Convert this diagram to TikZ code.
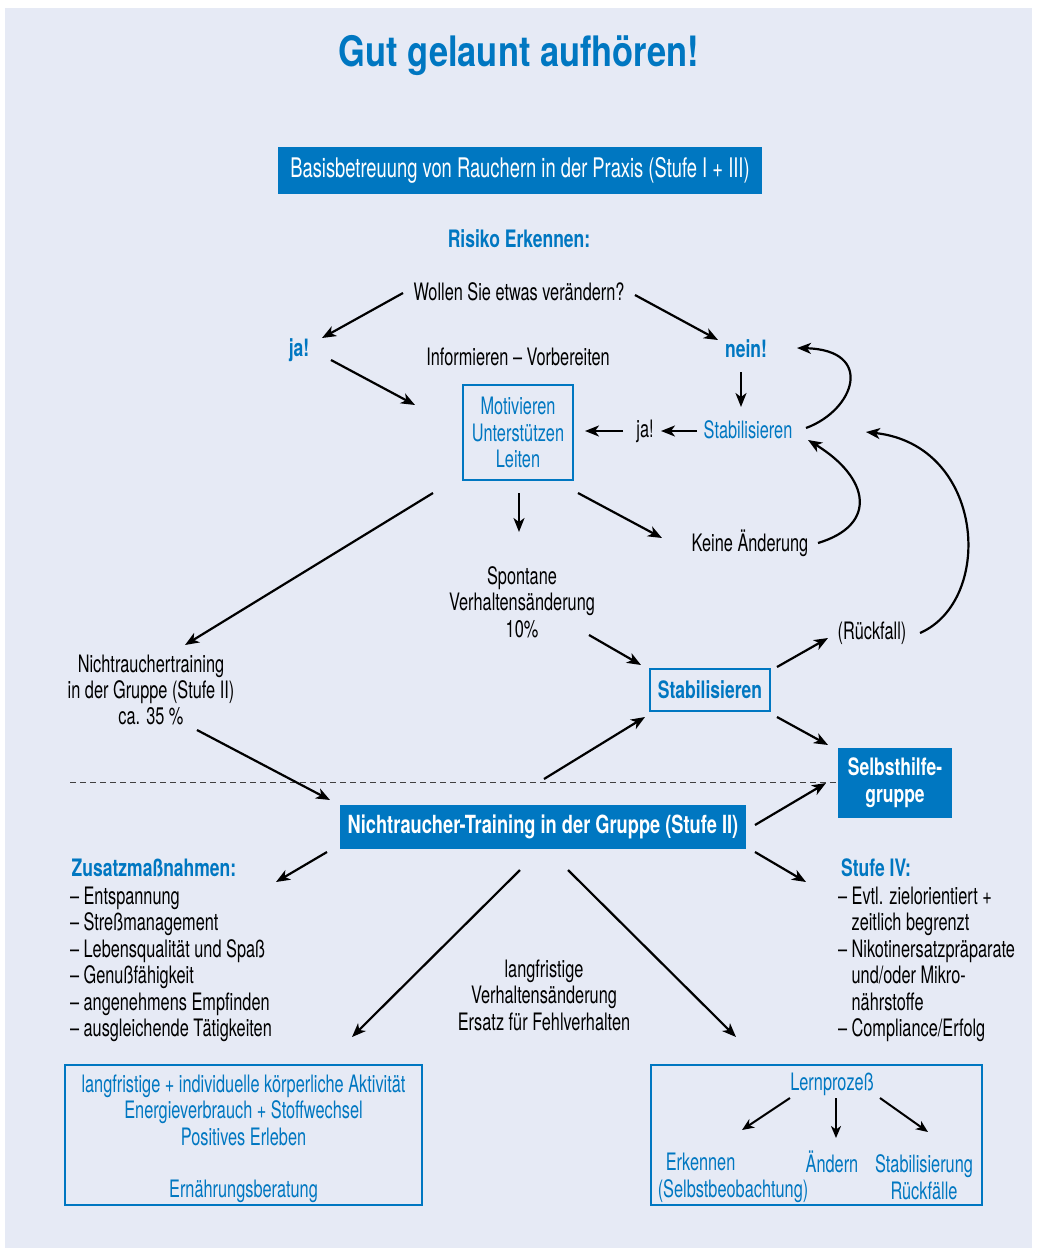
\documentclass[tikz,border=0pt]{standalone}
\usepackage{fontspec}
\setmainfont{TeX Gyre Heros}[FakeStretch=0.68,BoldFeatures={FakeStretch=0.73}]
\newfontfamily\titlefont{TeX Gyre Heros}[FakeStretch=0.82]
\usetikzlibrary{arrows.meta,calc}
\definecolor{bgc}{HTML}{E6EAF5}
\definecolor{blu}{HTML}{0077C1}
\begin{document}
\begin{tikzpicture}[x=1pt,y=-1pt,
  every node/.style={inner sep=0pt,outer sep=0pt},
  txt/.style={align=center,font=\fontsize{24}{26.4}\selectfont},
  btxt/.style={align=center,font=\fontsize{24}{26.4}\selectfont\bfseries,text=blu},
  bltxt/.style={align=center,font=\fontsize{24}{26.4}\selectfont,text=blu},
  fbox/.style={fill=blu,text=white,align=center},
  obox/.style={draw=blu,line width=1.3pt},
  arr/.style={line width=2.2pt,-{Stealth[length=14pt,width=11pt,inset=4pt]}},
  thinarr/.style={line width=2pt,-{Stealth[length=12pt,width=10pt,inset=3.5pt]}}
]
\useasboundingbox (0,0) rectangle (1037,1248);
\fill[white] (0,0) rectangle (1037,1248);
\fill[bgc] (5,8) rectangle (1032,1248);

% title and header
\node[font=\fontsize{42}{46}\selectfont\titlefont\bfseries,text=blu] (title) at (519,56) {Gut gelaunt aufhören!};
\node[fbox,minimum width=484pt,minimum height=47pt,font=\fontsize{27}{29}\selectfont] (basis) at (520,170.5) {Basisbetreuung von Rauchern in der Praxis (Stufe I + III)};
\node[btxt] (risiko) at (519,239) {Risiko Erkennen:};
\node[txt] (wollen) at (519,292) {Wollen Sie etwas verändern?};
\node[btxt] (ja1) at (299,350) {ja!};
\node[txt] (info) at (518,357) {Informieren – Vorbereiten};
\node[btxt] (nein) at (746,349) {nein!};
\node[obox,bltxt,minimum width=110pt,minimum height=95pt] (motiv) at (518,432.5) {Motivieren\\Unterstützen\\Leiten};
\node[txt] (ja2) at (645,431) {ja!};
\node[bltxt] (stab1) at (748,430) {Stabilisieren};
\node[txt] (keine) at (750,543) {Keine Änderung};
\node[txt] (spont) at (522,602) {Spontane\\Verhaltensänderung\\10\%};
\node[txt] (ntt) at (151,690) {Nichtrauchertraining\\in der Gruppe (Stufe II)\\ca. 35 \%};
\node[obox,btxt,minimum width=120pt,minimum height=42pt] (stab2) at (710,690) {Stabilisieren};
\node[txt] (rueck) at (872,633) {(Rückfall)};
\node[fbox,font=\fontsize{24}{27}\selectfont\bfseries,minimum width=114pt,minimum height=70pt] (selbst) at (895,783) {Selbsthilfe-\\gruppe};
\node[fbox,font=\fontsize{25}{27}\selectfont\bfseries,minimum width=406pt,minimum height=44pt] (ntbox) at (543,827) {Nichtraucher-Training in der Gruppe (Stufe II)};

\draw[dashed,dash pattern=on 6pt off 4pt,line width=0.9pt,black!75] (70,782) -- (selbst.west |- 0,782);

% lists
\node[btxt] (zus) at (154,868) {Zusatzmaßnahmen:};
\node[txt,align=left,anchor=north west] (zlist) at (70,887) {– Entspannung\\– Streßmanagement\\– Lebensqualität und Spaß\\– Genußfähigkeit\\– angenehmens Empfinden\\– ausgleichende Tätigkeiten};
\node[btxt] (stufe) at (876,868) {Stufe IV:};
\node[txt,align=left,anchor=north west] (slist) at (838,887) {– Evtl. zielorientiert +\\\phantom{– }zeitlich begrenzt\\– Nikotinersatzpräparate\\\phantom{– }und/oder Mikro-\\\phantom{– }nährstoffe\\– Compliance/Erfolg};
\node[txt] (lang) at (544,995) {langfristige\\Verhaltensänderung\\Ersatz für Fehlverhalten};

% bottom boxes
\node[obox,minimum width=357pt,minimum height=140pt] (lbox) at (243.5,1135) {};
\node[bltxt] (lb1) at (243.5,1110) {langfristige + individuelle körperliche Aktivität\\Energieverbrauch + Stoffwechsel\\Positives Erleben};
\node[bltxt] (lb2) at (243.5,1191) {Ernährungsberatung};
\node[obox,minimum width=331pt,minimum height=140pt] (rbox) at (816.5,1135) {};
\node[bltxt] (lern) at (832,1084) {Lernprozeß};
\node[bltxt,align=left] (erk) at (733,1178) {\hspace*{8pt}Erkennen\\(Selbstbeobachtung)};
\node[bltxt] (aend) at (832,1162) {Ändern};
\node[bltxt] (stabil) at (924,1177) {Stabilisierung\\Rückfälle};

% arrows
\draw[arr] ($(wollen)+(-116,1)$) -- ($(ja1)+(23,-12)$);
\draw[arr] ($(wollen)+(116,3)$) -- ($(nein)+(-28,-9)$);
\draw[arr] ($(ja1)+(32,10)$) -- ($(motiv)+(-103,-27.5)$);
\draw[arr] ($(nein)+(-5,23)$) -- ($(stab1)+(-7,-23)$);
\draw[arr] ($(stab1)+(-51,1)$) -- ($(ja2)+(16,0)$);
\draw[arr] ($(ja2)+(-22,0)$) -- ($(motiv)+(67,-1.5)$);
\draw[arr] ($(stab1)+(58,-2)$) .. controls ($(stab1)+(107,-20)$) and ($(nein)+(129,1)$) .. ($(nein)+(51,-1)$);
\draw[arr] ($(motiv)+(1,60.5)$) -- ($(spont)+(-3,-70)$);
\draw[arr] ($(motiv)+(60,60.5)$) -- ($(keine)+(-88,-5)$);
\draw[arr] ($(motiv)+(-85,60.5)$) -- ($(ntt)+(34,-45)$);
\draw[arr] ($(keine)+(68,0)$) .. controls ($(keine)+(128,-18)$) and ($(stab1)+(122,48)$) .. ($(stab1)+(60,10)$);
\draw[arr] ($(rueck)+(48,0)$) .. controls ($(rueck)+(123,-33)$) and ($(stab1)+(237,15)$) .. ($(stab1)+(118,2)$);
\draw[arr] ($(spont)+(67,33)$) -- ($(stab2)+(-69,-25)$);
\draw[arr] ($(stab2)+(67,-23)$) -- ($(rueck)+(-44,5)$);
\draw[arr] ($(stab2)+(67,27)$) -- ($(selbst)+(-67,-38)$);
\draw[arr] ($(ntt)+(46,40)$) -- ($(ntbox)+(-213,-27)$);
\draw[arr] ($(ntbox)+(1,-48)$) -- ($(stab2)+(-65,27)$);
\draw[arr] ($(ntbox)+(212,-2)$) -- ($(selbst)+(-69,0)$);
\draw[arr] ($(ntbox)+(-216,25)$) -- ($(zus)+(122,14)$);
\draw[arr] ($(ntbox)+(212,25)$) -- ($(stufe)+(-70,14)$);
\draw[arr] ($(ntbox)+(-23,43)$) -- ($(lbox)+(108.5,-98)$);
\draw[arr] ($(ntbox)+(25,43)$) -- ($(rbox)+(-80.5,-98)$);
\draw[thinarr] ($(lern)+(-42,14)$) -- ($(erk)+(9,-48)$);
\draw[thinarr] ($(lern)+(4,14)$) -- ($(aend)+(4,-24)$);
\draw[thinarr] ($(lern)+(48,14)$) -- ($(stabil)+(4,-45)$);
\end{tikzpicture}
\end{document}
